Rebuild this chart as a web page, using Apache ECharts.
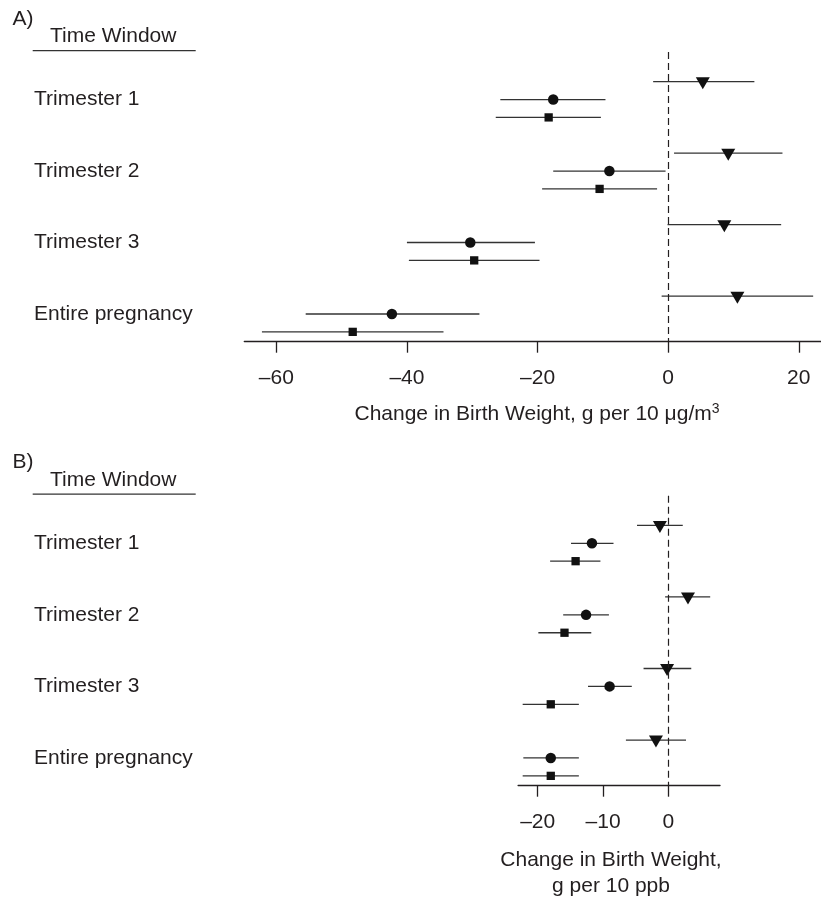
<!DOCTYPE html>
<html><head><meta charset="utf-8">
<script src="https://cdn.jsdelivr.net/npm/echarts@6/dist/echarts.min.js"></script>
<style>html,body{margin:0;padding:0;background:#fff}#c{width:821px;height:897px}</style>
</head><body><div id="c"></div><script>
// ---------- data ----------
const timeWindows = ['Trimester 1', 'Trimester 2', 'Trimester 3', 'Entire pregnancy'];
const xTicksA = [-60, -40, -20, 0, 20];
const xTicksB = [-20, -10, 0];

// Panel A (per 10 µg/m3)
const triA_est = [5.3, 9.2, 8.6, 10.6];
const triA_lo  = [-2.3, 0.9, -0.1, -1.0];
const triA_hi  = [13.2, 17.5, 17.3, 22.2];
const cirA_est = [-17.6, -9.0, -30.3, -42.3];
const cirA_lo  = [-25.7, -17.6, -40.0, -55.5];
const cirA_hi  = [-9.6, -0.4, -20.4, -28.9];
const sqA_est  = [-18.3, -10.5, -29.7, -48.3];
const sqA_lo   = [-26.4, -19.3, -39.7, -62.2];
const sqA_hi   = [-10.3, -1.7, -19.7, -34.4];

// Panel B (per 10 ppb)
const triB_est = [-1.3, 3.0, -0.2, -1.9];
const triB_lo  = [-4.8, -0.5, -3.8, -6.5];
const triB_hi  = [2.2, 6.4, 3.5, 2.7];
const cirB_est = [-11.7, -12.6, -9.0, -18.0];
const cirB_lo  = [-14.9, -16.1, -12.3, -22.2];
const cirB_hi  = [-8.4, -9.1, -5.6, -13.7];
const sqB_est  = [-14.2, -15.9, -18.0, -18.0];
const sqB_lo   = [-18.1, -19.9, -22.3, -22.3];
const sqB_hi   = [-10.4, -11.8, -13.7, -13.7];

// ---------- helpers ----------
const FONT = "'Liberation Sans', Arial, sans-serif";
const TXT = '#231f20';
const rowOf = (g, s) => g * 4 + s;            // s: 0 triangle, 1 circle, 2 square
const labelRows = timeWindows.map((_, g) => rowOf(g, 1));
const barData = (lo, hi, s) => lo.map((l, g) => [l, hi[g], rowOf(g, s)]);
const ptData = (est, s) => est.map((v, g) => [v, rowOf(g, s)]);
const fmtTick = v => v < 0 ? '\u2013' + Math.abs(v) : String(v);

function renderBar(params, api) {
  const a = api.coord([api.value(0), api.value(2)]);
  const b = api.coord([api.value(1), api.value(2)]);
  return { type: 'line', shape: { x1: a[0], y1: a[1], x2: b[0], y2: b[1] },
    style: { stroke: '#333', lineWidth: 1.3 } };
}

const markers = [
  { symbol: 'triangle', symbolRotate: 180, symbolSize: [14, 12], symbolOffset: [0, 1.5] },
  { symbol: 'circle', symbolSize: 10.5 },
  { symbol: 'rect', symbolSize: 8.3 }
];

function panelSeries(idx, sets) {
  const out = [];
  sets.forEach((st, s) => {
    out.push({ type: 'custom', coordinateSystem: 'cartesian2d', xAxisIndex: idx, yAxisIndex: idx,
      renderItem: renderBar, encode: { x: [0, 1], y: 2 }, data: barData(st.lo, st.hi, s), z: 2, silent: true });
  });
  sets.forEach((st, s) => {
    const ser = Object.assign({ type: 'scatter', xAxisIndex: idx, yAxisIndex: idx, data: ptData(st.est, s),
      itemStyle: { color: '#111', opacity: 1 }, z: 3, silent: true }, markers[s]);
    if (s === 0) {
      ser.markLine = { silent: true, symbol: 'none', label: { show: false },
        lineStyle: { type: [7, 4], color: TXT, width: 1.2 }, data: [{ xAxis: 0 }] };
    }
    out.push(ser);
  });
  return out;
}

function xAxisDef(idx, min, max, ticks) {
  return { type: 'value', gridIndex: idx, min: min, max: max,
    axisLine: { show: true, onZero: false, lineStyle: { color: TXT, width: 1.3 } },
    axisTick: { show: true, customValues: ticks, length: 11, lineStyle: { color: TXT, width: 1.3 } },
    axisLabel: { customValues: ticks, formatter: fmtTick, margin: 26, color: TXT, fontSize: 21, fontFamily: FONT },
    splitLine: { show: false } };
}
function yAxisDef(idx, gridLeft) {
  return { type: 'value', gridIndex: idx, inverse: true, min: -1.66, max: 14.55,
    axisLine: { show: false }, axisTick: { show: false }, splitLine: { show: false },
    axisLabel: { customValues: labelRows, formatter: v => timeWindows[Math.round((v - 1) / 4)],
      align: 'left', margin: gridLeft - 34, color: TXT, fontSize: 21, fontFamily: FONT } };
}

const gridA = { left: 244.3, width: 576.7, top: 52, height: 289.7 };
const gridB = { left: 518.1, width: 201.9, top: 495.7, height: 290 };

function header(letter, dy) {
  return [
    { type: 'text', x: 12.5, y: 19 + dy, style: { text: letter, fontSize: 21, fontFamily: FONT, fill: TXT, verticalAlign: 'middle', align: 'left' } },
    { type: 'text', x: 50, y: 36.7 + dy, style: { text: 'Time Window', fontSize: 21, fontFamily: FONT, fill: TXT, verticalAlign: 'middle', align: 'left' } },
    { type: 'line', shape: { x1: 32.7, y1: 50.7 + dy, x2: 195.7, y2: 50.7 + dy }, style: { stroke: '#333', lineWidth: 1.3 } }
  ];
}

const chart = echarts.init(document.getElementById('c'), null, { renderer: 'canvas' });
chart.setOption({
  animation: false,
  backgroundColor: '#fff',
  grid: [
    { left: gridA.left, width: gridA.width, top: gridA.top, height: gridA.height },
    { left: gridB.left, width: gridB.width, top: gridB.top, height: gridB.height }
  ],
  xAxis: [xAxisDef(0, -64.9, 23.4, xTicksA), xAxisDef(1, -23, 7.9, xTicksB)],
  yAxis: [yAxisDef(0, gridA.left), yAxisDef(1, gridB.left)],
  series: [].concat(
    panelSeries(0, [{ est: triA_est, lo: triA_lo, hi: triA_hi }, { est: cirA_est, lo: cirA_lo, hi: cirA_hi }, { est: sqA_est, lo: sqA_lo, hi: sqA_hi }]),
    panelSeries(1, [{ est: triB_est, lo: triB_lo, hi: triB_hi }, { est: cirB_est, lo: cirB_lo, hi: cirB_hi }, { est: sqB_est, lo: sqB_lo, hi: sqB_hi }])
  ),
  graphic: [].concat(
    header('A)', 0),
    header('B)', 443.5),
    [
      { type: 'text', x: 537, y: 414, style: {
        text: '{a|Change in Birth Weight, g per 10 \u03bcg/m}{s|3}',
        align: 'center', verticalAlign: 'middle',
        rich: { a: { fontSize: 21, fontFamily: FONT, fill: TXT, color: TXT, lineHeight: 24 },
                s: { fontSize: 14, fontFamily: FONT, fill: TXT, color: TXT, lineHeight: 24, verticalAlign: 'top' } } } },
      { type: 'text', x: 611, y: 873, style: {
        text: 'Change in Birth Weight,\ng per 10 ppb', align: 'center', verticalAlign: 'middle',
        fontSize: 21, fontFamily: FONT, fill: TXT, lineHeight: 26 } }
    ]
  )
});
</script></body></html>
